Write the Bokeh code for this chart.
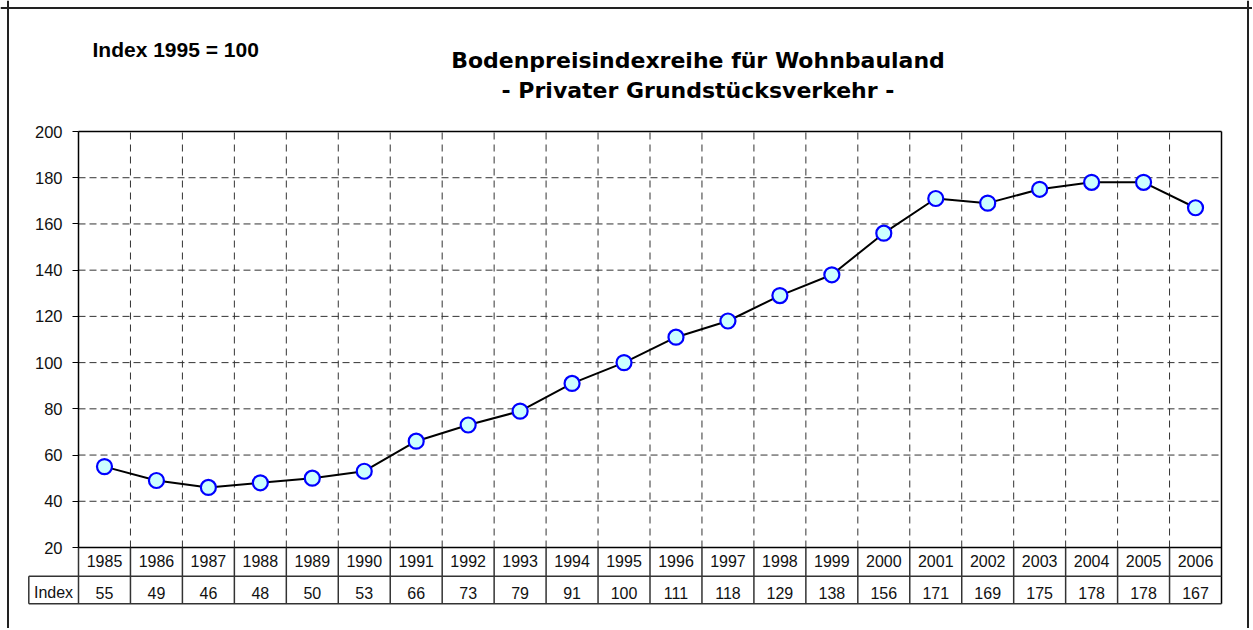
from bokeh.plotting import figure
from bokeh.models import Range1d, LinearAxis, FixedTicker, Span
from bokeh.core.properties import value
from bokeh.embed import file_html
from bokeh.resources import INLINE

# ---------------- data ----------------
years = ["1985", "1986", "1987", "1988", "1989", "1990", "1991", "1992", "1993", "1994", "1995",
         "1996", "1997", "1998", "1999", "2000", "2001", "2002", "2003", "2004", "2005", "2006"]
index_values = [55, 49, 46, 48, 50, 53, 66, 73, 79, 91, 100,
                111, 118, 129, 138, 156, 171, 169, 175, 178, 178, 167]
y_ticks = [20, 40, 60, 80, 100, 120, 140, 160, 180, 200]
title_line1 = "Bodenpreisindexreihe für Wohnbauland"
title_line2 = "- Privater Grundstücksverkehr -"
base_note = "Index  1995 = 100"
row_label = "Index"

# ---------------- layout geometry (canvas pixels) ----------------
W, H = 1252, 628
PL, PR = 78, 1221      # plot area left / right
PT, PB = 131, 547      # plot area top / bottom
ROW1_B = 575.7         # bottom of year row
ROW2_B = 603.3         # bottom of index row
CELL_L = 28.3          # left of "Index" cell

n = len(years)
YMIN, YMAX = y_ticks[0], y_ticks[-1]
sx = (PR - PL) / n
sy = (PB - PT) / (YMAX - YMIN)
X0 = -0.5 - PL / sx
X1 = (n - 0.5) + (W - PR) / sx
Y1 = YMAX + PT / sy
Y0 = YMIN - (H - PB) / sy


def dx(px):
    return X0 + px / sx


def dy(py):
    return Y1 - py / sy


xs = list(range(n))
left_edge, right_edge = -0.5, n - 0.5
bounds = [k - 0.5 for k in range(1, n)]

p = figure(width=W, height=H, x_range=Range1d(X0, X1), y_range=Range1d(Y0, Y1),
           x_axis_type=None, y_axis_type=None, toolbar_location=None,
           output_backend="svg", min_border=0, min_border_left=0, min_border_right=0,
           min_border_top=0, min_border_bottom=0)
p.outline_line_color = None
p.background_fill_color = "white"
p.border_fill_color = "white"

# outer frame (left, top, right)
for loc, dim in [(dx(7.5), "height"), (dx(1247.5), "height"), (dy(7.5), "width")]:
    p.add_layout(Span(location=loc, dimension=dim, line_color="#222222", line_width=2))

grid_color = "#333333"
# horizontal dashed grid
inner_ticks = y_ticks[1:-1]
p.segment(x0=[left_edge] * len(inner_ticks), x1=[right_edge] * len(inner_ticks),
          y0=inner_ticks, y1=inner_ticks, line_color=grid_color, line_width=1,
          line_dash="7 4")
# vertical dashed grid at category boundaries
p.segment(x0=bounds, x1=bounds, y0=[YMIN] * len(bounds), y1=[YMAX] * len(bounds),
          line_color=grid_color, line_width=1, line_dash="7 5")

# plot-area border (top, right, bottom)
p.segment(x0=[left_edge, right_edge, left_edge], x1=[right_edge, right_edge, right_edge],
          y0=[YMAX, YMAX, YMIN], y1=[YMAX, dy(ROW2_B), YMIN],
          line_color="black", line_width=1.5)

# data table grid
tcol = "#333333"
p.segment(x0=bounds + [left_edge], x1=bounds + [left_edge],
          y0=[YMIN] * (len(bounds) + 1), y1=[dy(ROW2_B)] * (len(bounds) + 1),
          line_color=tcol, line_width=1.5)
p.segment(x0=[dx(CELL_L), dx(CELL_L), dx(CELL_L)], x1=[right_edge, right_edge, dx(CELL_L)],
          y0=[dy(ROW1_B), dy(ROW2_B), dy(ROW1_B)], y1=[dy(ROW1_B), dy(ROW2_B), dy(ROW2_B)],
          line_color=tcol, line_width=1.5)

# y axis
yaxis = LinearAxis(fixed_location=left_edge, ticker=FixedTicker(ticks=y_ticks),
                   bounds=(YMIN, YMAX))
yaxis.axis_line_color = "black"
yaxis.axis_line_width = 1.5
yaxis.major_tick_out = 6
yaxis.major_tick_in = 0
yaxis.major_tick_line_color = "black"
yaxis.minor_tick_line_color = None
yaxis.major_label_text_font = "Liberation Sans"
yaxis.major_label_text_font_size = "16.5px"
yaxis.major_label_text_color = "#111111"
yaxis.major_label_standoff = 10
p.add_layout(yaxis, "left")

# series
p.line(xs, index_values, line_color="black", line_width=2)
p.scatter(xs, index_values, size=15, fill_color="#CCFFFF", line_color="#0000FF",
          line_width=2.2)

# table texts
p.text(x=xs, y=[dy(560.5)] * n, text=years,
       text_font=value("Liberation Sans"), text_font_size=value("16px"),
       text_color="#111111", text_align="center", text_baseline="middle")
p.text(x=xs, y=[dy(592)] * n, text=[str(v) for v in index_values],
       text_font=value("Liberation Sans"), text_font_size=value("16px"),
       text_color="#111111", text_align="center", text_baseline="middle")
p.text(x=[dx(53)], y=[dy(592)], text=[row_label],
       text_font=value("Liberation Sans"), text_font_size=value("16px"),
       text_color="#111111", text_align="center", text_baseline="middle")

# titles
p.text(x=[dx(697.5)], y=[dy(60)], text=[title_line1], text_font=value("DejaVu Sans"),
       text_font_size=value("22px"), text_font_style="bold", text_color="black",
       text_align="center", text_baseline="alphabetic")
p.text(x=[dx(697.5)], y=[dy(90)], text=[title_line2], text_font=value("DejaVu Sans"),
       text_font_size=value("22px"), text_font_style="bold", text_color="black",
       text_align="center", text_baseline="alphabetic")
p.text(x=[dx(92)], y=[dy(49.3)], text=[base_note], text_font=value("Liberation Sans"),
       text_font_size=value("21px"), text_font_style="bold", text_color="black",
       text_align="left", text_baseline="alphabetic")

open("out.html", "w").write(file_html(p, INLINE))
